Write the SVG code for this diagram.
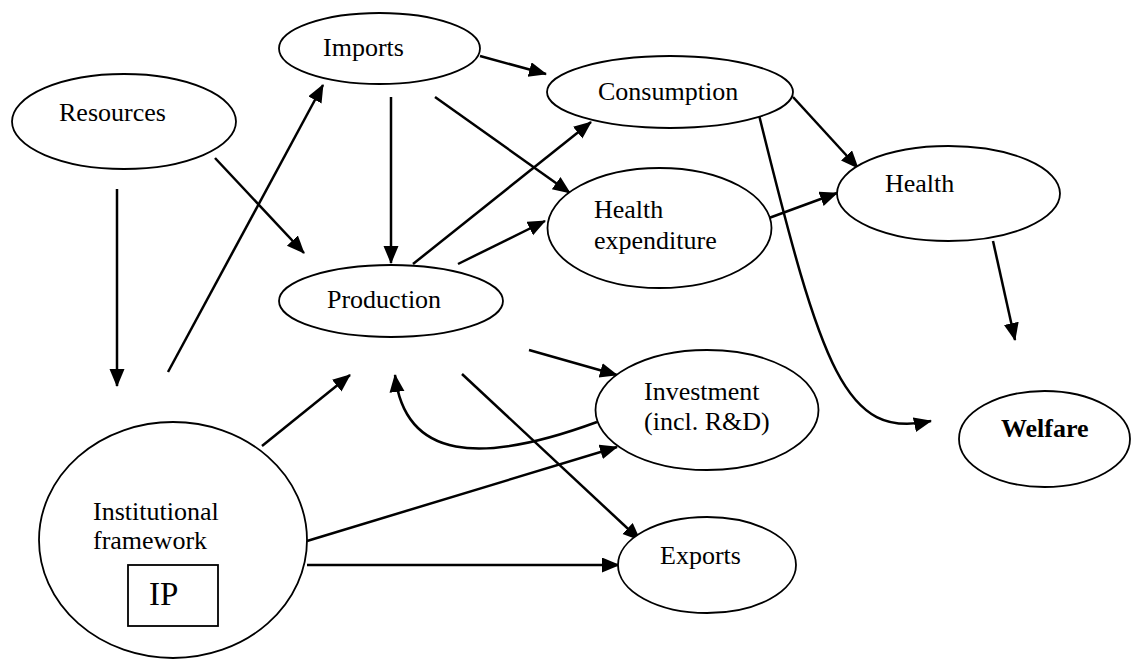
<svg xmlns="http://www.w3.org/2000/svg" width="1134" height="659" viewBox="0 0 1134 659">
<defs>
<style>
.node ellipse{fill:#fff;stroke:#000;stroke-width:1.8}
.node rect{fill:none;stroke:#000;stroke-width:1.8}
.lbl{font-family:'Liberation Serif','Times New Roman','DejaVu Serif',serif;font-size:26px;fill:#000}
.bold{font-weight:bold}
.ip{font-size:33px}
#connectors path{fill:none;stroke:#000;stroke-width:2.5;marker-end:url(#arr)}
</style>
<marker id="arr" markerUnits="userSpaceOnUse" markerWidth="20" markerHeight="18" refX="17" refY="7.5" orient="auto">
<path d="M0,0 L18,7.5 L0,15 z" fill="#000"/>
</marker>
</defs>
<rect width="1134" height="659" fill="#fff"/>
<g id="connectors">
<path d="M117,189 L117,386"/>
<path d="M215,158 L304,253"/>
<path d="M168,372 L323,85"/>
<path d="M480,56 L546,74"/>
<path d="M391,97 L391,263"/>
<path d="M435,97 L570,193"/>
<path d="M413,264 L591,122"/>
<path d="M458,264 L545,221"/>
<path d="M793,97 L858,168"/>
<path d="M769,218 L837,193"/>
<path d="M993,241 L1015,340"/>
<path d="M759,115 C822,370 845,440 931,421"/>
<path d="M529,350 L617,375"/>
<path d="M462,374 L640,540"/>
<path d="M597,422 C480,465 405,460 395,375"/>
<path d="M262,446 L350,375"/>
<path d="M307,541 L617,447"/>
<path d="M307,565 L619,565"/>
</g>
<g font-family="Liberation Serif, Times New Roman, serif" font-size="26">
<g id="resources" class="node"><ellipse cx="124" cy="121.5" rx="112" ry="47.5"/><text class="lbl" x="59" y="121">Resources</text></g>
<g id="imports" class="node"><ellipse cx="379.5" cy="48.5" rx="100.5" ry="35.5"/><text class="lbl" x="323" y="56">Imports</text></g>
<g id="consumption" class="node"><ellipse cx="670" cy="92" rx="123" ry="36"/><text class="lbl" x="598" y="100">Consumption</text></g>
<g id="health" class="node"><ellipse cx="948.5" cy="193.5" rx="111.5" ry="47.5"/><text class="lbl" x="885" y="192">Health</text></g>
<g id="health-expenditure" class="node"><ellipse cx="659.5" cy="228" rx="112" ry="60"/><text class="lbl" x="594" y="218">Health</text><text class="lbl" x="594" y="249">expenditure</text></g>
<g id="production" class="node"><ellipse cx="391" cy="301" rx="112" ry="36"/><text class="lbl" x="327" y="308">Production</text></g>
<g id="investment" class="node"><ellipse cx="707" cy="410" rx="111.5" ry="60"/><text class="lbl" x="644" y="400">Investment</text><text class="lbl" x="644" y="430">(incl. R&amp;D)</text></g>
<g id="welfare" class="node"><ellipse cx="1044.5" cy="439" rx="85.5" ry="48"/><text class="lbl bold" x="1001" y="437">Welfare</text></g>
<g id="exports" class="node"><ellipse cx="707" cy="565" rx="89" ry="48"/><text class="lbl" x="660" y="564">Exports</text></g>
<g id="institutional-framework" class="node"><ellipse cx="173" cy="540" rx="134" ry="118"/><text class="lbl" x="93" y="520">Institutional</text><text class="lbl" x="93" y="549">framework</text>
<g id="ip"><rect x="128" y="565" width="90" height="61"/><text class="lbl ip" x="149" y="605">IP</text></g></g>
</g>
</svg>
